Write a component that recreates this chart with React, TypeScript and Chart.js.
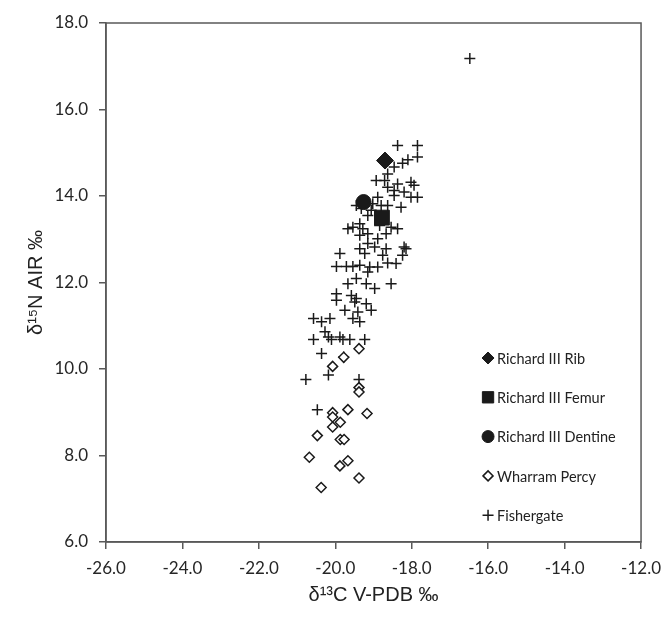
import React, { useEffect, useRef } from "react";
import { Chart, registerables } from "chart.js";
import { drawPoint } from "chart.js/helpers";

Chart.register(...registerables);

const xTicks = [-26, -24, -22, -20, -18, -16, -14, -12];
const yTicks = [6, 8, 10, 12, 14, 16, 18];

const ribX = [-18.7];
const ribY = [14.82];
const femurX = [-18.78];
const femurY = [13.5];
const dentineX = [-19.26];
const dentineY = [13.86];

const wharramX = [-20.07, -19.78, -19.38, -19.38, -19.38, -19.67, -19.17, -20.07, -20.07, -19.87, -20.07, -20.47, -19.87, -19.77, -20.68, -19.67, -19.88, -19.38, -20.37];
const wharramY = [10.06, 10.27, 10.47, 9.57, 9.47, 9.06, 8.97, 8.99, 8.89, 8.77, 8.66, 8.46, 8.37, 8.37, 7.96, 7.88, 7.76, 7.48, 7.26];

const fisherX = [
  -16.48,
  -18.37, -17.85, -17.85, -18.1, -18.24, -18.46, -18.63, -18.93, -18.71, -18.37, -18.02, -17.94, -18.63, -18.46, -18.2,
  -17.85, -18.02, -18.89, -18.46, -18.28, -18.63, -18.8, -19.02, -19.06, -19.45, -19.32, -19.15, -19.54, -19.36, -19.28,
  -19.15, -19.36, -18.84, -18.54, -18.37, -18.67, -18.89, -19.15, -18.2, -19.67,
  -19.88, -19.36, -19.23, -18.97, -18.67, -18.76, -18.15, -18.24, -19.97, -19.71, -19.54, -19.36, -19.1, -18.89, -18.63,
  -18.41, -19.15, -19.45, -19.67, -19.19, -18.97, -18.54, -19.97, -19.97, -19.58, -19.45, -19.49, -19.19, -19.75, -19.41,
  -19.06, -19.54, -19.36, -20.57, -20.36, -20.14, -20.27, -20.18, -20.57, -20.1, -19.88, -19.8, -19.62, -19.23, -20.36,
  -19.78,
  -20.77, -20.18, -19.38, -20.47,
];
const fisherY = [
  17.18,
  15.17, 15.17, 14.9, 14.84, 14.76, 14.67, 14.51, 14.36, 14.36, 14.28, 14.32, 14.25, 14.2, 14.13, 14.09,
  13.97, 13.97, 13.97, 14.01, 13.74, 13.78, 13.78, 13.82, 13.67, 13.78, 13.71, 13.55, 13.28, 13.36, 13.24,
  13.13, 13.09, 13.32, 13.28, 13.24, 13.13, 13.01, 12.9, 12.82, 13.24,
  12.67, 12.78, 12.67, 12.82, 12.78, 12.63, 12.78, 12.63, 12.37, 12.37, 12.37, 12.4, 12.36, 12.36, 12.45,
  12.44, 12.24, 12.09, 11.97, 11.97, 11.86, 11.97, 11.74, 11.59, 11.7, 11.63, 11.55, 11.51, 11.36, 11.32,
  11.36, 11.17, 11.09, 11.17, 11.09, 11.17, 10.86, 10.74, 10.68, 10.68, 10.74, 10.68, 10.68, 10.68, 10.36,
  10.28,
  9.76, 9.86, 9.76, 9.06,
];

const seriesLabels = ["Richard III Rib", "Richard III Femur", "Richard III Dentine", "Wharram Percy", "Fishergate"];

const toPts = (xs: number[], ys: number[]) => xs.map((x, i) => ({ x, y: ys[i] }));

const AXIS = "#595959";
const INK = "#1a1a1a";

const framePlugin = {
  id: "frame",
  afterDraw(chart: any) {
    const { ctx, chartArea: a } = chart;
    ctx.save();
    ctx.strokeStyle = AXIS;
    ctx.lineWidth = 1.5;
    ctx.strokeRect(a.left, a.top, a.right - a.left, a.bottom - a.top);
    ctx.restore();
  },
};

const legendPlugin = {
  id: "insideLegend",
  afterDraw(chart: any) {
    const { ctx, chartArea: a } = chart;
    const legendStyles = [
      { pointStyle: "rectRot", radius: 6, fill: INK, stroke: INK, bw: 1 },
      { pointStyle: "rect", radius: 8, fill: INK, stroke: INK, bw: 1 },
      { pointStyle: "circle", radius: 6, fill: INK, stroke: INK, bw: 1 },
      { pointStyle: "rectRot", radius: 5, fill: "#ffffff", stroke: INK, bw: 1.5 },
      { pointStyle: "cross", radius: 5.5, fill: INK, stroke: INK, bw: 1.5 },
    ];
    ctx.save();
    chart.data.datasets.forEach((ds: any, i: number) => {
      const mx = a.right - 153;
      const my = a.bottom - 184 + i * 39.3;
      const s = legendStyles[i];
      ctx.fillStyle = s.fill;
      ctx.strokeStyle = s.stroke;
      ctx.lineWidth = s.bw;
      drawPoint(ctx, { pointStyle: s.pointStyle, rotation: 0, radius: s.radius, borderWidth: s.bw } as any, mx, my);
      ctx.fillStyle = "#222";
      ctx.font = "14.5px Lato";
      ctx.textBaseline = "middle";
      ctx.textAlign = "left";
      ctx.fillText(ds.label, mx + 9, my + 1);
    });
    ctx.restore();
  },
};

export default function App() {
  const ref = useRef<HTMLCanvasElement | null>(null);

  useEffect(() => {
    if (!ref.current) return;
    const chart = new Chart(ref.current, {
      type: "scatter",
      data: {
        datasets: [
          {
            label: seriesLabels[0],
            data: toPts(ribX, ribY),
            pointStyle: "rectRot",
            pointRadius: 8.5,
            backgroundColor: INK,
            borderColor: INK,
            borderWidth: 1,
          },
          {
            label: seriesLabels[1],
            data: toPts(femurX, femurY),
            pointStyle: "rect",
            pointRadius: 10.5,
            backgroundColor: INK,
            borderColor: INK,
            borderWidth: 1,
          },
          {
            label: seriesLabels[2],
            data: toPts(dentineX, dentineY),
            pointStyle: "circle",
            pointRadius: 7.5,
            backgroundColor: INK,
            borderColor: INK,
            borderWidth: 1,
          },
          {
            label: seriesLabels[3],
            data: toPts(wharramX, wharramY),
            pointStyle: "rectRot",
            pointRadius: 5,
            backgroundColor: "#ffffff",
            borderColor: INK,
            borderWidth: 1.5,
          },
          {
            label: seriesLabels[4],
            data: toPts(fisherX, fisherY),
            pointStyle: "cross",
            pointRadius: 5.5,
            backgroundColor: INK,
            borderColor: INK,
            borderWidth: 1.5,
          },
        ],
      },
      options: {
        responsive: false,
        animation: false,
        devicePixelRatio: 1,
        layout: { padding: { top: 23, right: 24, left: 0, bottom: 0 } },
        plugins: { legend: { display: false }, tooltip: { enabled: false } },
        scales: {
          x: {
            type: "linear",
            min: xTicks[0],
            max: xTicks[xTicks.length - 1],
            afterBuildTicks: (s: any) => {
              s.ticks = xTicks.map((v) => ({ value: v }));
            },
            afterFit: (s: any) => {
              s.height = 77;
            },
            ticks: {
              callback: (v: any) => Number(v).toFixed(1),
              font: { family: "Lato", size: 17 },
              color: "#262626",
              padding: 9,
              maxRotation: 0,
            },
            grid: { drawOnChartArea: false, drawTicks: true, tickLength: 7, color: AXIS, lineWidth: 1.5 },
            border: { display: true, color: AXIS, width: 1.5 },
            title: {
              display: true,
              text: "δ¹³C V-PDB ‰",
              font: { family: "Liberation Sans", size: 20 },
              color: "#222",
              padding: { top: 0, bottom: 12 },
            },
          },
          y: {
            type: "linear",
            min: yTicks[0],
            max: yTicks[yTicks.length - 1],
            afterBuildTicks: (s: any) => {
              s.ticks = yTicks.map((v) => ({ value: v }));
            },
            afterFit: (s: any) => {
              s.width = 106;
            },
            ticks: {
              callback: (v: any) => Number(v).toFixed(1),
              font: { family: "Lato", size: 17 },
              color: "#262626",
              padding: 11,
            },
            grid: { drawOnChartArea: false, drawTicks: true, tickLength: 7, color: AXIS, lineWidth: 1.5 },
            border: { display: true, color: AXIS, width: 1.5 },
            title: {
              display: true,
              text: "δ¹⁵N AIR ‰",
              font: { family: "Liberation Sans", size: 20 },
              color: "#222",
              padding: { top: 24, bottom: 0 },
            },
          },
        },
      },
      plugins: [framePlugin, legendPlugin],
    });
    return () => chart.destroy();
  }, []);

  return (
    <div style={{ position: "absolute", left: 0, top: 0, width: 670, height: 619, background: "#fff" }}>
      <canvas ref={ref} width={670} height={619} style={{ display: "block" }} />
    </div>
  );
}
